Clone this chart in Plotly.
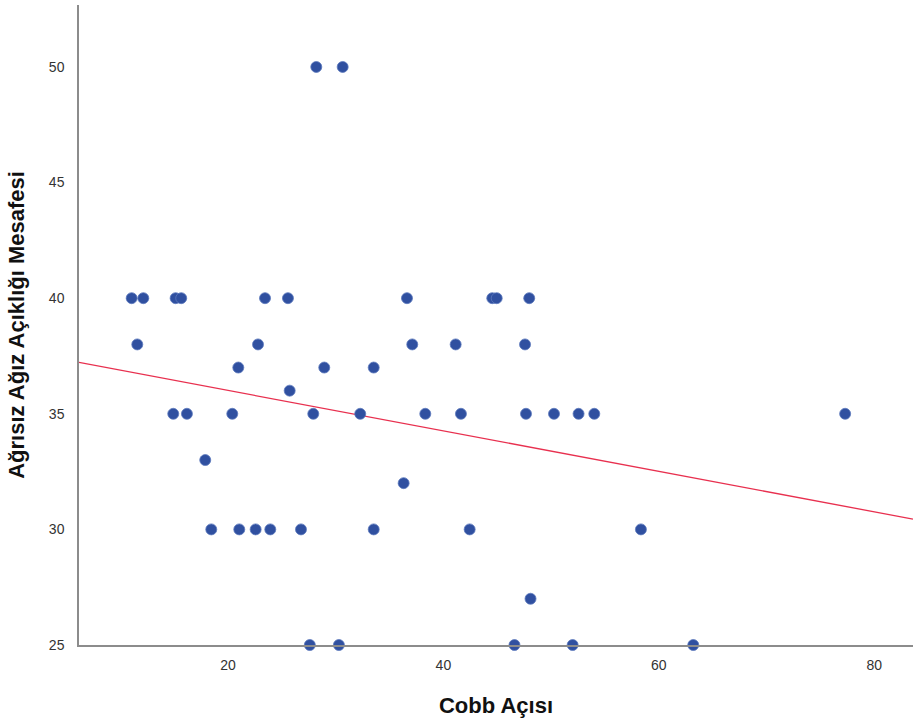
import plotly.graph_objects as go

# Data
cobb_40 = [11.06, 12.14, 15.14, 15.66, 23.44, 25.57, 36.62, 44.54, 44.95, 47.97]
cobb_38 = [11.58, 22.79, 37.11, 41.14, 47.58]
cobb_37 = [20.96, 28.94, 33.53]
cobb_36 = [25.73]
cobb_35 = [14.92, 16.19, 20.40, 27.92, 32.28, 38.32, 41.63, 47.67, 50.27, 52.55, 54.01, 77.3]
cobb_33 = [17.89]
cobb_32 = [36.31]
cobb_30 = [18.45, 21.05, 22.57, 23.93, 26.78, 33.53, 42.44, 58.34]
cobb_27 = [48.09]
cobb_25 = [27.6, 30.3, 46.6, 52.0, 63.2]
cobb_50 = [28.2, 30.65]

groups = [(40, cobb_40), (38, cobb_38), (37, cobb_37), (36, cobb_36), (35, cobb_35),
          (33, cobb_33), (32, cobb_32), (30, cobb_30), (27, cobb_27), (25, cobb_25), (50, cobb_50)]

x_vals = []
y_vals = []
for yv, xs in groups:
    for xv in xs:
        x_vals.append(xv)
        y_vals.append(yv)

# Fit line
fit_intercept = 37.76
fit_slope = -0.0875
x_range = [6.17, 83.6]
y_range = [25, 52.68]

x_ticks = [20, 40, 60, 80]
y_ticks = [25, 30, 35, 40, 45, 50]

fig = go.Figure()
fig.add_trace(go.Scatter(
    x=x_range, y=[fit_intercept + fit_slope * v for v in x_range],
    mode="lines", line=dict(color="#E8304F", width=1.3), hoverinfo="skip"))
fig.add_trace(go.Scatter(
    x=x_vals, y=y_vals, mode="markers", cliponaxis=False,
    marker=dict(size=11, color="#3050A0", line=dict(color="#5C78BC", width=0.8))))

fig.update_layout(
    width=913, height=726,
    margin=dict(l=79, r=0, t=5, b=81),
    paper_bgcolor="white", plot_bgcolor="white",
    showlegend=False,
    font=dict(family="Liberation Sans, Arial, sans-serif", color="#222"),
)
fig.update_xaxes(
    range=x_range, tickvals=x_ticks, showgrid=False, zeroline=False,
    showline=True, linecolor="#8c8c8c", linewidth=1.5,
    ticks="", ticklabelstandoff=6, tickfont=dict(size=14, color="#333"),
    title=dict(text="<b>Cobb Açısı</b>", font=dict(size=22, color="#111"), standoff=26),
    automargin=False,
)
fig.update_yaxes(
    range=y_range, tickvals=y_ticks, showgrid=False, zeroline=False,
    showline=True, linecolor="#8c8c8c", linewidth=1.5,
    ticks="", ticklabelstandoff=10, tickfont=dict(size=14, color="#333"),
    title=dict(text="<b>Ağrısız Ağız Açıklığı Mesafesi</b>", font=dict(size=22, color="#111"), standoff=18),
    automargin=False,
)

fig.write_html("out.html", config={"displayModeBar": False},
               post_script="document.body.style.margin='0';document.body.style.overflow='hidden';")
